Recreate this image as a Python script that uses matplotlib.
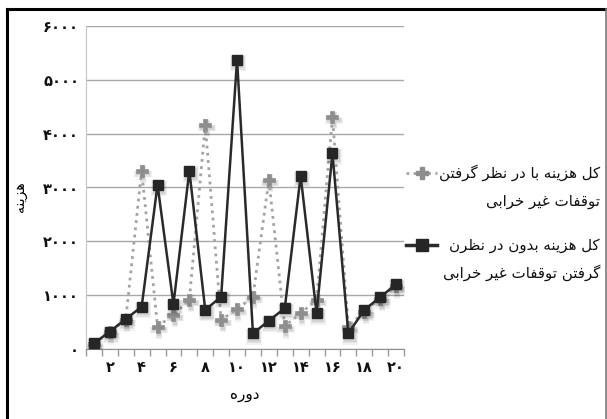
import matplotlib
matplotlib.use("Agg")
import matplotlib.pyplot as plt
from matplotlib.lines import Line2D
from matplotlib.transforms import ScaledTranslation

plt.rcParams['font.family'] = ['DejaVu Sans']

# ---- data ----
periods = list(range(1, 21))
cost_with_stops = [100, 320, 550, 3315, 420, 640, 915, 4160, 545, 740,
                   975, 3140, 430, 670, 915, 4305, 420, 700, 940, 1170]
cost_without_stops = [110, 330, 560, 790, 3050, 835, 3310, 730, 975, 5370,
                      295, 530, 760, 3215, 670, 3635, 295, 730, 965, 1205]
y_ticks = [0, 1000, 2000, 3000, 4000, 5000, 6000]
x_label_ticks = [2, 4, 6, 8, 10, 12, 14, 16, 18, 20]
label_with = ["کل هزینه با در نظر گرفتن", "توقفات غیر خرابی"]
label_without = ["کل هزینه بدون در نظرن", "گرفتن توقفات غیر خرابی"]
x_title = "دوره"
y_title = "هزینه"

# ---- minimal Persian shaping (contextual forms + visual order) ----
FORMS = {
    'ا': ('\uFE8D', '\uFE8E', None, None),
    'ب': ('\uFE8F', '\uFE90', '\uFE91', '\uFE92'),
    'ت': ('\uFE95', '\uFE96', '\uFE97', '\uFE98'),
    'خ': ('\uFEA5', '\uFEA6', '\uFEA7', '\uFEA8'),
    'د': ('\uFEA9', '\uFEAA', None, None),
    'ر': ('\uFEAD', '\uFEAE', None, None),
    'ز': ('\uFEAF', '\uFEB0', None, None),
    'ظ': ('\uFEC5', '\uFEC6', '\uFEC7', '\uFEC8'),
    'غ': ('\uFECD', '\uFECE', '\uFECF', '\uFED0'),
    'ف': ('\uFED1', '\uFED2', '\uFED3', '\uFED4'),
    'ق': ('\uFED5', '\uFED6', '\uFED7', '\uFED8'),
    'ل': ('\uFEDD', '\uFEDE', '\uFEDF', '\uFEE0'),
    'ن': ('\uFEE5', '\uFEE6', '\uFEE7', '\uFEE8'),
    'ه': ('\uFEE9', '\uFEEA', '\uFEEB', '\uFEEC'),
    'و': ('\uFEED', '\uFEEE', None, None),
    'ک': ('\uFB8E', '\uFB8F', '\uFB90', '\uFB91'),
    'گ': ('\uFB92', '\uFB93', '\uFB94', '\uFB95'),
    'ی': ('\uFBFC', '\uFBFD', '\uFBFE', '\uFBFF'),
}


def shape(text):
    out = []
    n = len(text)
    for i, ch in enumerate(text):
        f = FORMS.get(ch)
        if f is None:
            out.append(ch)
            continue
        prev = text[i - 1] if i > 0 else ''
        nxt = text[i + 1] if i + 1 < n else ''
        join_prev = prev in FORMS and FORMS[prev][2] is not None
        join_next = f[2] is not None and nxt in FORMS
        if join_prev and join_next:
            out.append(f[3])
        elif join_prev:
            out.append(f[1])
        elif join_next:
            out.append(f[2])
        else:
            out.append(f[0])
    return ''.join(reversed(out))


def fa_digits(v):
    return str(v).translate(str.maketrans('0123456789', '۰۱۲۳۴۵۶۷۸۹'))


W, H = 607, 419
fig = plt.figure(figsize=(W / 100, H / 100), dpi=100)
ax = fig.add_axes([86 / W, 1 - 349.3 / H, (404 - 86) / W, (349.3 - 25.7) / H])

# grid and axes frame
ax.set_ylim(0, 6000)
ax.set_xlim(0.5, 20.5)
ax.set_yticks(y_ticks)
ax.set_yticklabels([fa_digits(v) for v in y_ticks], fontsize=10.5,
                   fontweight='bold')
ax.yaxis.grid(True, color='#a8a8a8', lw=1.0)
ax.set_axisbelow(True)
ax.tick_params(axis='y', length=0, pad=5, colors='#111111')
ax.set_xticks(x_label_ticks)
ax.set_xticklabels([fa_digits(v) for v in x_label_ticks], fontsize=10.5,
                   fontweight='bold')
ax.set_xticks([p - 0.5 for p in periods] + [20.5], minor=True)
ax.tick_params(axis='x', which='major', length=0, pad=8, colors='#111111')
ax.tick_params(axis='x', which='minor', length=5, width=1, color='#999999')
for s in ('top', 'right'):
    ax.spines[s].set_visible(False)
ax.spines['left'].set_color('#c4c4c4')
ax.spines['bottom'].set_color('#8f8f8f')

# soft drop shadows under the markers
for dx, dy, a, grow in [(1.0, -2.5, 0.05, 4.0),
                        (1.0, -2.2, 0.06, 2.5),
                        (1.0, -2.0, 0.07, 1.0)]:
    off = ax.transData + ScaledTranslation(dx / 72, dy / 72, fig.dpi_scale_trans)
    ax.plot(periods, cost_with_stops, linestyle='none', marker='P',
            markersize=8.5 + grow, color='#000000', alpha=a, mew=0,
            transform=off, zorder=1)
    ax.plot(periods, cost_without_stops, linestyle='none', marker='s',
            markersize=7.5 + grow, color='#000000', alpha=a, mew=0,
            transform=off, zorder=3)

# series
ax.plot(periods, cost_with_stops, linestyle=(0, (1, 1.6)), lw=2.0,
        color='#a3a3a3', marker='P', markersize=8.5, markerfacecolor='#8e8e8e',
        markeredgecolor='#8e8e8e', mew=0.5, zorder=2)
ax.plot(periods, cost_without_stops, linestyle='-', lw=1.8,
        color='#2a2a2a', marker='s', markersize=7.5,
        markerfacecolor='#262626', markeredgecolor='#262626', mew=1.0,
        zorder=4, solid_joinstyle='miter')

# axis titles
ax.set_xlabel(shape(x_title), fontsize=11, labelpad=8)
fig.text(20 / W, 1 - 197 / H, shape(y_title), rotation=90, fontsize=10,
         ha='center', va='center')


# legend (keys on the left, right-aligned text)
def legend_entry(y_px, lines, marker, markersize, markercolor, **style):
    fig.add_artist(Line2D([406 / W, 437 / W], [1 - y_px / H] * 2,
                          transform=fig.transFigure, **style))
    fig.add_artist(Line2D([422 / W], [1 - y_px / H], transform=fig.transFigure,
                          linestyle='none', marker=marker,
                          markersize=markersize, color=markercolor))
    for j, line in enumerate(lines):
        fig.text(600 / W, 1 - (y_px + 28 * j) / H, shape(line),
                 ha='right', va='center', fontsize=10.8, color='#111111')


legend_entry(173, label_with, 'P', 8.5, '#8e8e8e',
             linestyle=(0, (1, 1.6)), lw=2.0, color='#a3a3a3')
legend_entry(245, label_without, 's', 8, '#262626',
             linestyle='-', lw=2.5, color='#2a2a2a')

# outer frame
fig.add_artist(Line2D([7 / W, 604.5 / W], [1 - 9.5 / H] * 2,
                      transform=fig.transFigure, color='black', lw=2.2))
fig.add_artist(Line2D([7 / W, 7 / W], [1 - 9.5 / H, 0],
                      transform=fig.transFigure, color='black', lw=2.2))
fig.add_artist(Line2D([605.5 / W, 605.5 / W], [1 - 9.5 / H, 0],
                      transform=fig.transFigure, color='#7a7a7a', lw=1.2))

fig.savefig('out.png', dpi=100, facecolor='white')
